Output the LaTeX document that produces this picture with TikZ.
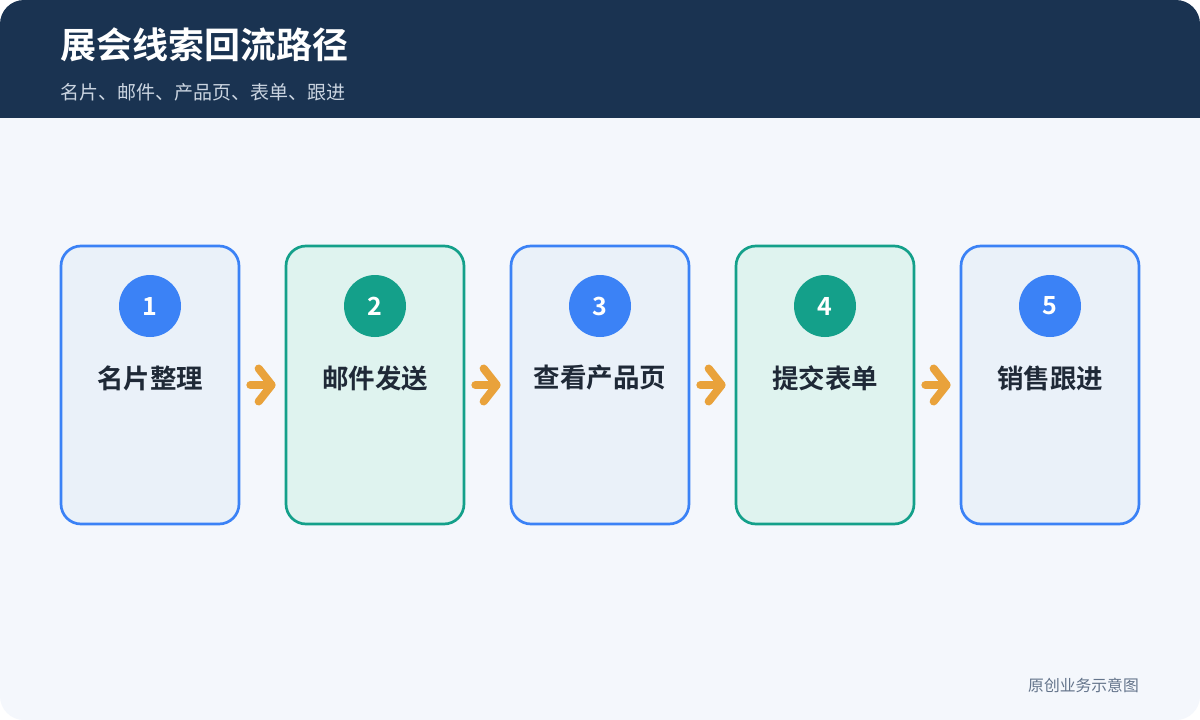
\documentclass[tikz,border=0pt]{standalone}
\usepackage{fontspec}
\setmainfont{Noto Sans CJK SC}
\newfontfamily\cjkb{Noto Sans CJK SC Bold}
\usetikzlibrary{arrows.meta}
\definecolor{bgc}{HTML}{F4F7FC}
\definecolor{hdr}{HTML}{1A3351}
\definecolor{bluel}{HTML}{3B82F6}
\definecolor{bluef}{HTML}{EAF1F9}
\definecolor{teall}{HTML}{14A08A}
\definecolor{tealf}{HTML}{DFF3EF}
\definecolor{txt}{HTML}{1F2937}
\definecolor{subc}{HTML}{CBD5E1}
\definecolor{footc}{HTML}{64748B}
\definecolor{arr}{HTML}{E9A23B}
\tikzset{
  x=1pt, y=-1pt,
  stepbox/.style={draw=#1l, fill=#1f, line width=2.7pt, rounded corners=20pt, minimum width=178pt, minimum height=278pt, inner sep=0pt},
  numc/.style={circle, fill=#1l, minimum size=62pt, inner sep=0pt, text=white, font=\cjkb\fontsize{25}{25}\selectfont},
  lbl/.style={text=txt, font=\cjkb\fontsize{26.5}{26.5}\selectfont, inner sep=0pt},
  flow/.style={draw=arr, line width=8pt, line cap=round, shorten <=10pt, shorten >=9pt,
    -{Straight Barb[length=13pt, width=33pt, line cap=round, line join=round]}}
}
\begin{document}
\begin{tikzpicture}
\useasboundingbox (0,0) rectangle (1200,720);
\fill[white] (0,0) rectangle (1200,720);
\fill[bgc, rounded corners=24pt] (0,0) rectangle (1200,720);
\begin{scope}
\clip[rounded corners=24pt] (0,0) rectangle (1200,720);
\fill[hdr] (0,0) rectangle (1200,118);
\end{scope}
\node[anchor=base west, text=white, font=\cjkb\fontsize{36}{36}\selectfont, inner sep=0pt] (title) at (60,58) {展会线索回流路径};
\node[anchor=base west, text=subc, font=\fontsize{19}{19}\selectfont, inner sep=0pt] (sub) at (60,99) {名片、邮件、产品页、表单、跟进};
\node[anchor=base east, text=footc, font=\fontsize{15.8}{15.8}\selectfont, inner sep=0pt] (foot) at (1139,691) {原创业务示意图};
\foreach \i/\c/\t in {1/blue/名片整理, 2/teal/邮件发送, 3/blue/查看产品页, 4/teal/提交表单, 5/blue/销售跟进}{
  \node[stepbox=\c] (b\i) at ({150+225*(\i-1)},385) {};
  \node[numc=\c] (n\i) at ({150+225*(\i-1)},306) {\i};
  \node[lbl] (t\i) at ({150+225*(\i-1)},378) {\t};
}
\foreach \i [evaluate=\i as \j using int(\i+1)] in {1,2,3,4}{
  \draw[flow] (b\i.east) -- (b\j.west);
}
\end{tikzpicture}
\end{document}
